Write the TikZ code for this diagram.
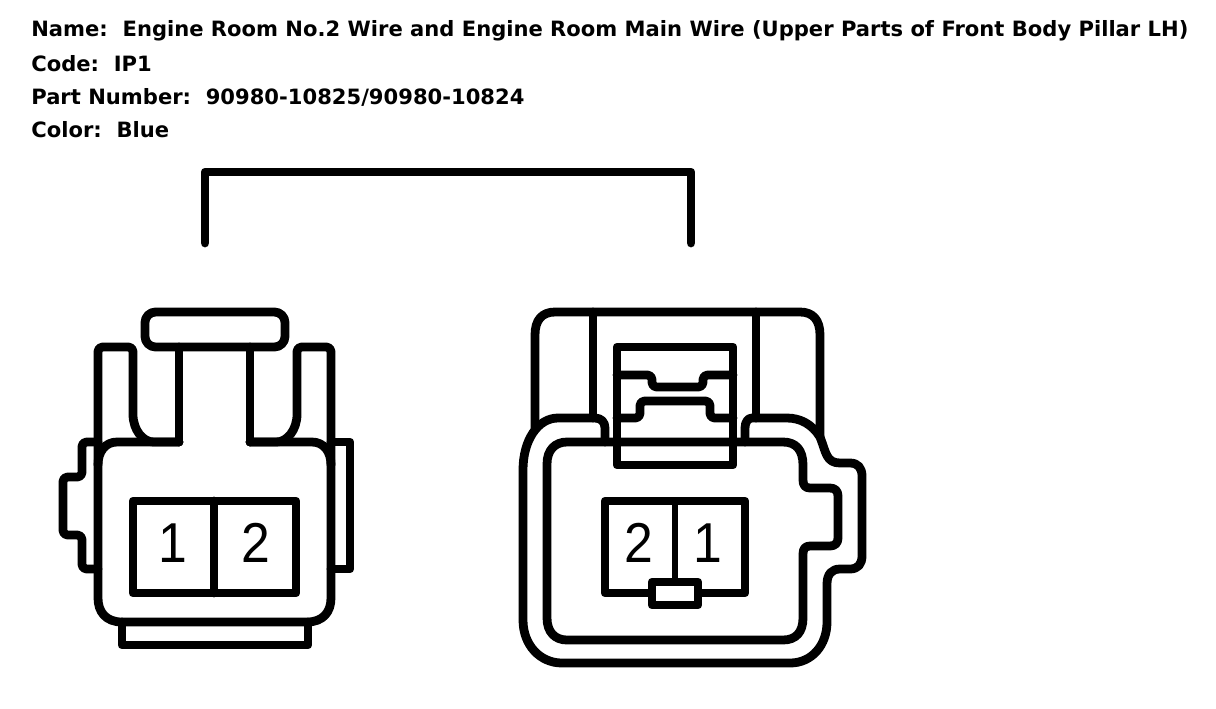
\documentclass[tikz,border=0pt]{standalone}
\usepackage{fontspec}
\setmainfont{Liberation Sans}
\newfontfamily\pinfont[FakeStretch=0.92]{Liberation Sans}
\newfontfamily\infofont{DejaVu Sans}
\begin{document}
\tikzset{
	wire/.style={line width=5pt, line cap=round, line join=round},
	wirec/.style={wire, rounded corners=2.5pt},
	pin/.style={font=\fontsize{32}{32}\pinfont, inner sep=0pt},
	info/.style={font=\fontsize{12}{14}\infofont\bfseries, anchor=west, inner sep=0pt}
}
\begin{tikzpicture}[x=0.02cm, y=-0.02cm]
	\useasboundingbox (0, 0) rectangle (1216, 708);

	\node [info] (name) at (31, 31) {Name:\ \ Engine Room No.2 Wire and Engine Room Main Wire (Upper Parts of Front Body Pillar LH)};
	\node [info] (code) at (31, 64) {Code:\ \ IP1};
	\node [info] (part) at (31, 97) {Part Number:\ \ 90980-10825/90980-10824};
	\node [info] (color) at (31, 130) {Color:\ \ Blue};

	\coordinate (b1) at (205, 243);
	\coordinate (b2) at (691, 243);
	\draw [wire] (b1) -- (205, 172) -- (691, 172) -- (b2);

	% left connector
	\draw [wirec, rounded corners=6pt] (145, 312) rectangle (285, 347);
	\draw [wire] (179, 347) -- (179, 442);
	\draw [wire] (250, 347) -- (250, 442);
	\draw [wirec] (98, 465) -- (98, 347) -- (133, 347) -- (133, 410) .. controls (133, 430) and (143, 442) .. (158, 442) -- (179, 442);
	\draw [wirec] (331, 465) -- (331, 347) -- (297, 347) -- (297, 410) .. controls (297, 430) and (287, 442) .. (272, 442) -- (250, 442);
	\draw [wire] (179, 442) -- (117, 442) .. controls (105, 442) and (98, 452) .. (98, 465) -- (98, 598) .. controls (98, 612) and (106, 622) .. (122, 622) -- (307, 622) .. controls (323, 622) and (331, 612) .. (331, 598) -- (331, 465) .. controls (331, 452) and (324, 442) .. (312, 442) -- (250, 442);
	\draw [wirec] (98, 442) -- (82, 442) -- (82, 477) -- (63, 477) -- (63, 535) -- (82, 535) -- (82, 569) -- (98, 569);
	\draw [wire] (331, 442) -- (350, 442) -- (350, 569) -- (331, 569);
	\draw [wire] (122, 622) -- (122, 645) -- (308, 645) -- (308, 622);
	\draw [wire] (133, 501) rectangle (296, 593);
	\draw [wire] (214, 501) -- (214, 593);
	\node [pin] (l1) at (173, 543) {1};
	\node [pin] (l2) at (256, 543) {2};

	% right connector
	\draw [wire] (605, 442) -- (605, 428) .. controls (605, 422) and (601, 418) .. (595, 418) -- (558, 418) .. controls (538, 418) and (523, 440) .. (523, 470) -- (523, 620) .. controls (523, 645) and (540, 663) .. (562, 663) -- (790, 663) .. controls (812, 663) and (827, 645) .. (827, 622) -- (827, 584) .. controls (827, 574) and (832, 569) .. (840, 569) -- (850, 569) .. controls (858, 569) and (862, 564) .. (862, 556) -- (862, 476) .. controls (862, 468) and (858, 463) .. (850, 463) -- (840, 463) .. controls (826, 463) and (826, 452) .. (820, 437) .. controls (812, 424) and (800, 418) .. (787, 418) -- (752, 418) .. controls (748, 418) and (745, 422) .. (745, 428) -- (745, 442);
	\draw [wire] (535, 428) -- (535, 335) .. controls (535, 320) and (542, 312) .. (555, 312) -- (800, 312) .. controls (813, 312) and (820, 320) .. (820, 335) -- (820, 437);
	\draw [wire] (593, 312) -- (593, 418);
	\draw [wire] (756, 312) -- (756, 418);
	\draw [wire] (567, 442) -- (783, 442) .. controls (796, 442) and (803, 450) .. (803, 465) -- (803, 480) .. controls (803, 485) and (805, 488) .. (810, 488) -- (830, 488) .. controls (835, 488) and (838, 491) .. (838, 496) -- (838, 538) .. controls (838, 543) and (835, 546) .. (830, 546) -- (810, 546) .. controls (805, 546) and (803, 549) .. (803, 554) -- (803, 618) .. controls (803, 632) and (796, 640) .. (783, 640) -- (567, 640) .. controls (555, 640) and (547, 632) .. (547, 618) -- (547, 464) .. controls (547, 450) and (555, 442) .. (567, 442) -- cycle;
	\draw [wire] (617, 347) rectangle (733, 465);
	\draw [wirec] (617, 375) -- (652, 375) -- (652, 387) -- (703, 387) -- (703, 375) -- (733, 375);
	\draw [wirec] (617, 418) -- (640, 418) -- (640, 401) -- (710, 401) -- (710, 418) -- (733, 418);
	\draw [wire] (605, 501) rectangle (745, 593);
	\draw [wire, line width=3.5pt] (675, 501) -- (675, 582);
	\draw [wire, fill=white] (652, 582) rectangle (698, 605);
	\node [pin] (r2) at (639, 543) {2};
	\node [pin] (r1) at (708, 543) {1};
\end{tikzpicture}
\end{document}
